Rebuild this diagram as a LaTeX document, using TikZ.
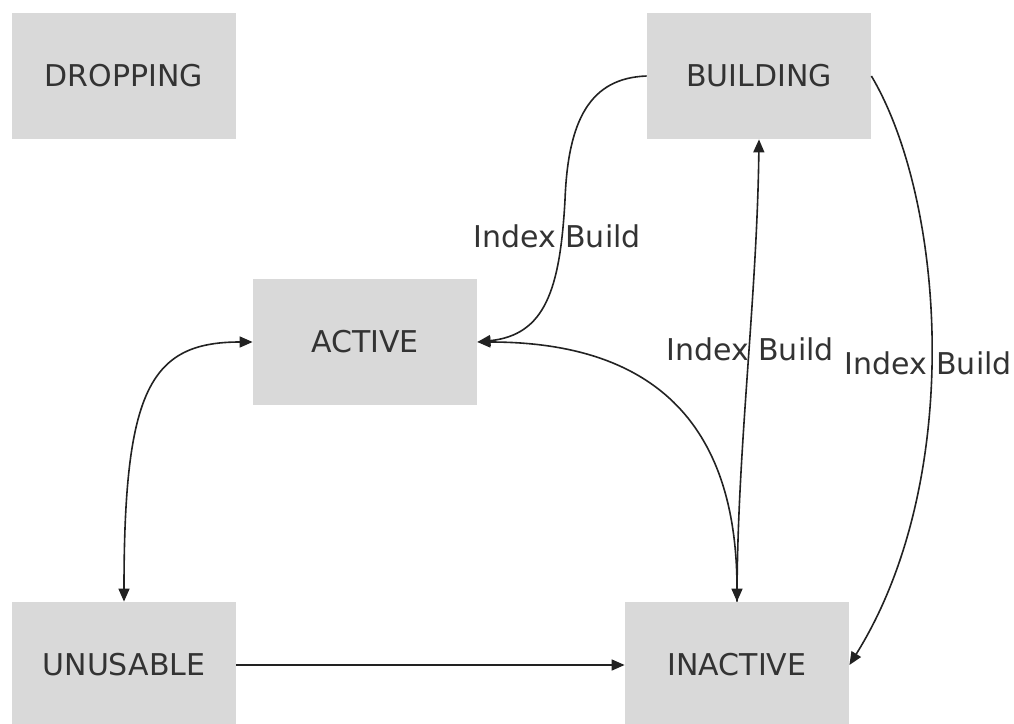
\documentclass[tikz,border=0pt]{standalone}
\usepackage{fontspec}
\setmainfont{DejaVu Sans}
\usetikzlibrary{arrows.meta}
\definecolor{boxgray}{HTML}{D9D9D9}
\definecolor{txtgray}{HTML}{333333}
\definecolor{linegray}{HTML}{222222}
\begin{document}
\begin{tikzpicture}[x=0.5pt,y=-0.5pt,>={Triangle[length=6.5pt,width=5.5pt]},
  state/.style={fill=boxgray,text=txtgray,minimum width=112pt,minimum height=63pt,
    inner sep=0pt,font=\fontsize{15}{18}\selectfont},
  trans/.style={draw=linegray,line width=0.8pt},
  lbl/.style={text=txtgray,font=\fontsize{15}{18}\selectfont}]
\useasboundingbox (0,0) rectangle (1014,724);
% states
\node[state] (drop) at (124,76) {DROPPING};
\node[state] (bld) at (759,76) {BUILDING};
\node[state] (act) at (365,342) {ACTIVE};
\node[state] (unu) at (124,665) {UNUSABLE};
\node[state] (inact) at (737,665) {INACTIVE};
% transitions
\draw[trans,->] (bld.west) .. controls (590,78) and (568,120) .. (565,200)
  .. controls (560,290) and (545,335) .. (act.east);
\draw[trans,<->] (act.east) .. controls (650,342) and (737,420) .. (inact.north);
\draw[trans,->] (inact.north) .. controls (737,450) and (757,300) .. (bld.south);
\draw[trans,->] (bld.east) .. controls (945,200) and (965,480) .. (inact.east);
\draw[trans,<->] (act.west) .. controls (150,342) and (124,390) .. (unu.north);
\draw[trans,->] (unu.east) -- (inact.west);
% labels
\node[lbl] (lb1) at (557,236) {Index Build};
\node[lbl] (lb2) at (750,349) {Index Build};
\node[lbl] (lb3) at (928,363) {Index Build};
\end{tikzpicture}
\end{document}
